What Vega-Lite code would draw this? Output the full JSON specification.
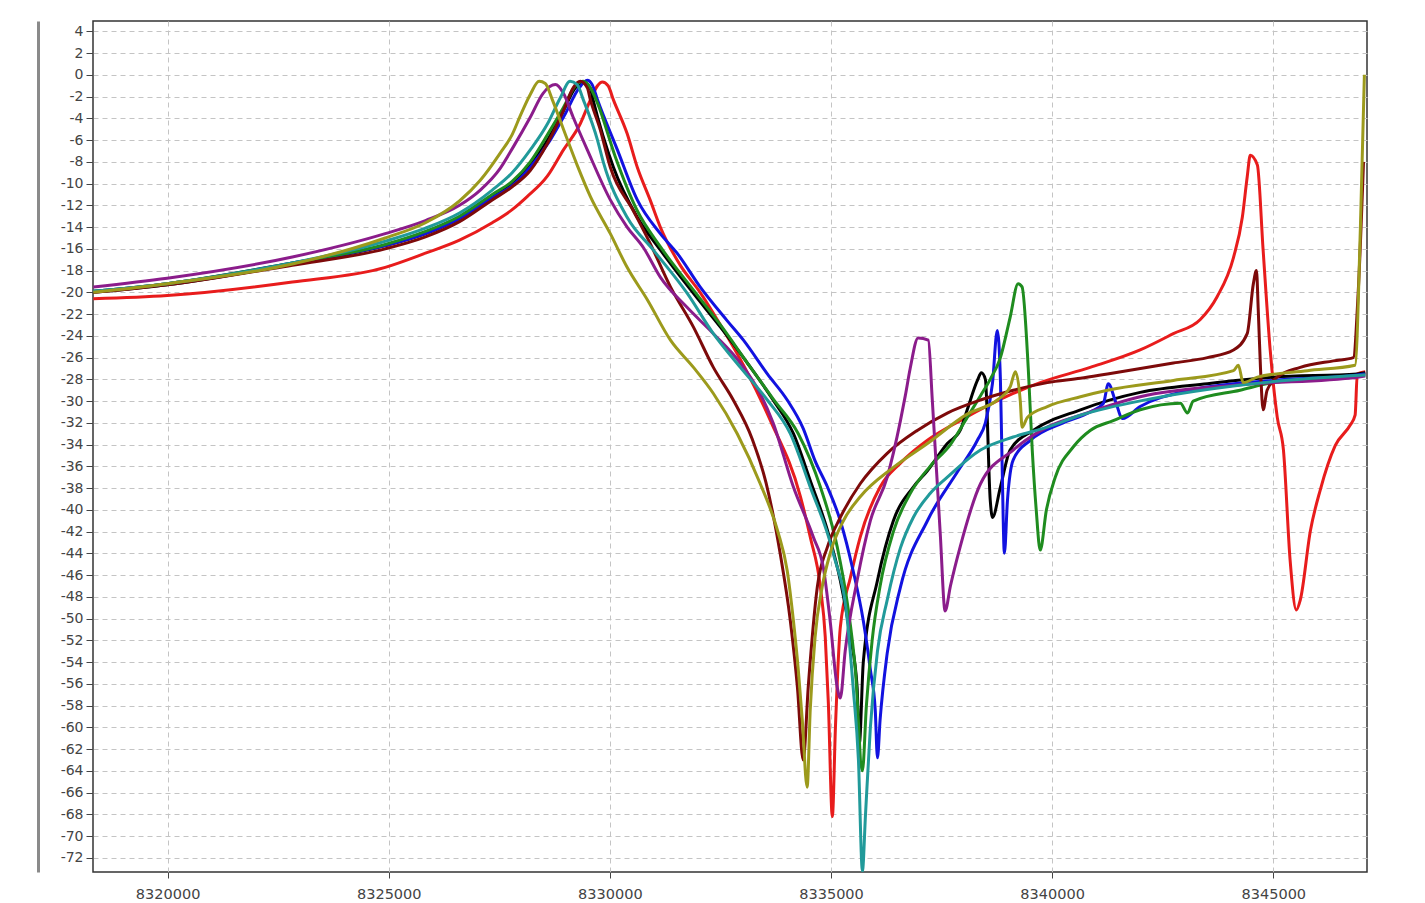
{
"$schema": "https://vega.github.io/schema/vega-lite/v6.json",
"width": 1274, "height": 851,
"autosize": {"type": "none"},
"padding": {"left": 93, "top": 21, "right": 58, "bottom": 31},
"background": "white",
"config": {
 "view": {"stroke": "#333", "strokeWidth": 1.5},
 "axis": {"labelFont": "DejaVu Sans", "labelFontSize": 14, "labelColor": "#444", "tickColor": "#444", "domain": false, "gridColor": "#c4c4c4", "gridDash": [5, 4], "gridWidth": 1, "title": null}
},
"data": {"values": [
{"s":"red","f":8318320,"v":-20.6},{"s":"red","f":8319990,"v":-20.3},{"s":"red","f":8322820,"v":-19.05},{"s":"red","f":8324920,"v":-17.7},{"s":"red","f":8325830,"v":-16.4},{"s":"red","f":8326600,"v":-15.2},{"s":"red","f":8327340,"v":-13.6},{"s":"red","f":8327790,"v":-12.4},{"s":"red","f":8328130,"v":-11.2},{"s":"red","f":8328590,"v":-9.3},{"s":"red","f":8328950,"v":-6.9},{"s":"red","f":8329330,"v":-4.5},{"s":"red","f":8329560,"v":-2.3},{"s":"red","f":8329720,"v":-1.0},{"s":"red","f":8329830,"v":-0.66},{"s":"red","f":8329960,"v":-1.0},{"s":"red","f":8330080,"v":-2.3},{"s":"red","f":8330390,"v":-5.4},{"s":"red","f":8330620,"v":-8.5},{"s":"red","f":8330910,"v":-11.5},{"s":"red","f":8331140,"v":-14.0},{"s":"red","f":8331590,"v":-17.5},{"s":"red","f":8332040,"v":-20.0},{"s":"red","f":8332500,"v":-23.0},{"s":"red","f":8333060,"v":-27.0},{"s":"red","f":8333630,"v":-31.8},{"s":"red","f":8334310,"v":-38.8},{"s":"red","f":8334530,"v":-42.5},{"s":"red","f":8334760,"v":-47.1},{"s":"red","f":8334870,"v":-51.7},{"s":"red","f":8334940,"v":-57.8},{"s":"red","f":8335030,"v":-68.2},{"s":"red","f":8335100,"v":-60.0},{"s":"red","f":8335210,"v":-50.8},{"s":"red","f":8335440,"v":-46.2},{"s":"red","f":8335660,"v":-42.5},{"s":"red","f":8336110,"v":-37.9},{"s":"red","f":8336570,"v":-35.7},{"s":"red","f":8337180,"v":-33.6},{"s":"red","f":8337920,"v":-31.8},{"s":"red","f":8339120,"v":-29.3},{"s":"red","f":8339730,"v":-28.3},{"s":"red","f":8340860,"v":-26.9},{"s":"red","f":8341990,"v":-25.3},{"s":"red","f":8342740,"v":-23.8},{"s":"red","f":8343350,"v":-22.5},{"s":"red","f":8343730,"v":-20.4},{"s":"red","f":8344100,"v":-16.8},{"s":"red","f":8344300,"v":-13.1},{"s":"red","f":8344410,"v":-9.4},{"s":"red","f":8344480,"v":-7.4},{"s":"red","f":8344640,"v":-8.3},{"s":"red","f":8344770,"v":-16.1},{"s":"red","f":8344930,"v":-25.3},{"s":"red","f":8345090,"v":-31.5},{"s":"red","f":8345230,"v":-34.5},{"s":"red","f":8345380,"v":-44.6},{"s":"red","f":8345520,"v":-49.2},{"s":"red","f":8345610,"v":-48.3},{"s":"red","f":8345840,"v":-41.9},{"s":"red","f":8346060,"v":-38.2},{"s":"red","f":8346400,"v":-34.1},{"s":"red","f":8346740,"v":-32.2},{"s":"red","f":8346850,"v":-31.3},{"s":"red","f":8346900,"v":-27.5},{"s":"red","f":8347080,"v":-27.3},
{"s":"black","f":8318320,"v":-20.0},{"s":"black","f":8319990,"v":-19.3},{"s":"black","f":8322820,"v":-17.4},{"s":"black","f":8324920,"v":-15.7},{"s":"black","f":8325830,"v":-14.6},{"s":"black","f":8326600,"v":-13.2},{"s":"black","f":8327340,"v":-11.2},{"s":"black","f":8327790,"v":-10.0},{"s":"black","f":8328200,"v":-8.3},{"s":"black","f":8328590,"v":-6.0},{"s":"black","f":8328950,"v":-3.3},{"s":"black","f":8329220,"v":-1.2},{"s":"black","f":8329420,"v":-0.7},{"s":"black","f":8329560,"v":-1.3},{"s":"black","f":8329620,"v":-2.3},{"s":"black","f":8330080,"v":-8.5},{"s":"black","f":8330620,"v":-13.1},{"s":"black","f":8331140,"v":-16.1},{"s":"black","f":8331890,"v":-20.1},{"s":"black","f":8332500,"v":-23.2},{"s":"black","f":8333110,"v":-26.5},{"s":"black","f":8333690,"v":-29.9},{"s":"black","f":8334150,"v":-33.0},{"s":"black","f":8334530,"v":-37.3},{"s":"black","f":8334920,"v":-41.9},{"s":"black","f":8335210,"v":-46.5},{"s":"black","f":8335440,"v":-51.7},{"s":"black","f":8335590,"v":-56.3},{"s":"black","f":8335640,"v":-61.5},{"s":"black","f":8335730,"v":-54.0},{"s":"black","f":8336050,"v":-46.5},{"s":"black","f":8336410,"v":-41.0},{"s":"black","f":8336860,"v":-37.9},{"s":"black","f":8337180,"v":-36.4},{"s":"black","f":8337630,"v":-33.9},{"s":"black","f":8337920,"v":-32.7},{"s":"black","f":8338080,"v":-30.8},{"s":"black","f":8338310,"v":-28.1},{"s":"black","f":8338400,"v":-27.4},{"s":"black","f":8338490,"v":-28.0},{"s":"black","f":8338600,"v":-39.1},{"s":"black","f":8338650,"v":-40.7},{"s":"black","f":8338830,"v":-37.9},{"s":"black","f":8339050,"v":-34.5},{"s":"black","f":8339570,"v":-32.7},{"s":"black","f":8340640,"v":-30.8},{"s":"black","f":8341990,"v":-29.2},{"s":"black","f":8343510,"v":-28.4},{"s":"black","f":8345000,"v":-27.8},{"s":"black","f":8346900,"v":-27.5},{"s":"black","f":8347080,"v":-27.4},
{"s":"blue","f":8318320,"v":-19.9},{"s":"blue","f":8319990,"v":-19.2},{"s":"blue","f":8322820,"v":-17.3},{"s":"blue","f":8324920,"v":-15.7},{"s":"blue","f":8325830,"v":-14.6},{"s":"blue","f":8326600,"v":-13.2},{"s":"blue","f":8327340,"v":-11.3},{"s":"blue","f":8327790,"v":-10.2},{"s":"blue","f":8328200,"v":-8.5},{"s":"blue","f":8328650,"v":-6.0},{"s":"blue","f":8328990,"v":-3.6},{"s":"blue","f":8329290,"v":-1.3},{"s":"blue","f":8329490,"v":-0.5},{"s":"blue","f":8329600,"v":-0.9},{"s":"blue","f":8329720,"v":-2.3},{"s":"blue","f":8330170,"v":-6.9},{"s":"blue","f":8330620,"v":-11.5},{"s":"blue","f":8331140,"v":-14.6},{"s":"blue","f":8331520,"v":-16.4},{"s":"blue","f":8332040,"v":-19.5},{"s":"blue","f":8332650,"v":-22.6},{"s":"blue","f":8333020,"v":-24.4},{"s":"blue","f":8333560,"v":-27.5},{"s":"blue","f":8334010,"v":-29.9},{"s":"blue","f":8334370,"v":-32.5},{"s":"blue","f":8334640,"v":-35.5},{"s":"blue","f":8334920,"v":-37.9},{"s":"blue","f":8335210,"v":-41.0},{"s":"blue","f":8335500,"v":-45.6},{"s":"blue","f":8335730,"v":-50.2},{"s":"blue","f":8335890,"v":-54.7},{"s":"blue","f":8336000,"v":-58.4},{"s":"blue","f":8336050,"v":-62.8},{"s":"blue","f":8336110,"v":-59.3},{"s":"blue","f":8336270,"v":-53.2},{"s":"blue","f":8336570,"v":-47.1},{"s":"blue","f":8337180,"v":-41.0},{"s":"blue","f":8337860,"v":-36.5},{"s":"blue","f":8338310,"v":-33.6},{"s":"blue","f":8338490,"v":-32.0},{"s":"blue","f":8338650,"v":-28.4},{"s":"blue","f":8338760,"v":-23.5},{"s":"blue","f":8338830,"v":-28.0},{"s":"blue","f":8338870,"v":-36.1},{"s":"blue","f":8338920,"v":-44.0},{"s":"blue","f":8338990,"v":-39.1},{"s":"blue","f":8339120,"v":-35.4},{"s":"blue","f":8339510,"v":-33.6},{"s":"blue","f":8340250,"v":-32.0},{"s":"blue","f":8340860,"v":-31.0},{"s":"blue","f":8341160,"v":-30.2},{"s":"blue","f":8341270,"v":-28.4},{"s":"blue","f":8341430,"v":-30.0},{"s":"blue","f":8341590,"v":-31.6},{"s":"blue","f":8341990,"v":-30.5},{"s":"blue","f":8343120,"v":-29.0},{"s":"blue","f":8345000,"v":-28.1},{"s":"blue","f":8346900,"v":-27.6},{"s":"blue","f":8347080,"v":-27.5},
{"s":"green","f":8318320,"v":-19.9},{"s":"green","f":8319990,"v":-19.2},{"s":"green","f":8322820,"v":-17.3},{"s":"green","f":8324920,"v":-15.6},{"s":"green","f":8325830,"v":-14.4},{"s":"green","f":8326600,"v":-13.0},{"s":"green","f":8327340,"v":-11.0},{"s":"green","f":8327790,"v":-9.8},{"s":"green","f":8328200,"v":-8.0},{"s":"green","f":8328590,"v":-5.5},{"s":"green","f":8328950,"v":-3.0},{"s":"green","f":8329220,"v":-1.0},{"s":"green","f":8329400,"v":-0.6},{"s":"green","f":8329560,"v":-1.2},{"s":"green","f":8329720,"v":-2.6},{"s":"green","f":8330120,"v":-7.5},{"s":"green","f":8330620,"v":-12.5},{"s":"green","f":8331140,"v":-15.8},{"s":"green","f":8331930,"v":-20.0},{"s":"green","f":8332500,"v":-23.0},{"s":"green","f":8333110,"v":-26.5},{"s":"green","f":8333690,"v":-29.8},{"s":"green","f":8334260,"v":-33.0},{"s":"green","f":8334760,"v":-37.9},{"s":"green","f":8335140,"v":-43.4},{"s":"green","f":8335370,"v":-48.6},{"s":"green","f":8335550,"v":-54.7},{"s":"green","f":8335710,"v":-64.0},{"s":"green","f":8335800,"v":-58.0},{"s":"green","f":8335930,"v":-52.0},{"s":"green","f":8336110,"v":-47.0},{"s":"green","f":8336410,"v":-42.0},{"s":"green","f":8336790,"v":-38.5},{"s":"green","f":8337240,"v":-36.0},{"s":"green","f":8337700,"v":-34.0},{"s":"green","f":8338080,"v":-31.5},{"s":"green","f":8338380,"v":-29.5},{"s":"green","f":8338600,"v":-28.0},{"s":"green","f":8338830,"v":-26.0},{"s":"green","f":8339050,"v":-22.3},{"s":"green","f":8339230,"v":-19.2},{"s":"green","f":8339320,"v":-19.5},{"s":"green","f":8339460,"v":-27.0},{"s":"green","f":8339550,"v":-34.5},{"s":"green","f":8339640,"v":-40.0},{"s":"green","f":8339730,"v":-43.7},{"s":"green","f":8339870,"v":-40.0},{"s":"green","f":8340070,"v":-37.0},{"s":"green","f":8340480,"v":-34.2},{"s":"green","f":8340860,"v":-32.7},{"s":"green","f":8341380,"v":-31.8},{"s":"green","f":8341990,"v":-30.8},{"s":"green","f":8342900,"v":-30.2},{"s":"green","f":8343060,"v":-31.1},{"s":"green","f":8343190,"v":-30.0},{"s":"green","f":8344250,"v":-29.0},{"s":"green","f":8345000,"v":-28.3},{"s":"green","f":8346900,"v":-27.7},{"s":"green","f":8347080,"v":-27.6},
{"s":"maroon","f":8318320,"v":-20.0},{"s":"maroon","f":8319990,"v":-19.3},{"s":"maroon","f":8322820,"v":-17.5},{"s":"maroon","f":8324920,"v":-16.0},{"s":"maroon","f":8325830,"v":-14.9},{"s":"maroon","f":8326600,"v":-13.5},{"s":"maroon","f":8327340,"v":-11.5},{"s":"maroon","f":8327790,"v":-10.3},{"s":"maroon","f":8328200,"v":-8.8},{"s":"maroon","f":8328590,"v":-6.3},{"s":"maroon","f":8328950,"v":-3.3},{"s":"maroon","f":8329170,"v":-1.2},{"s":"maroon","f":8329330,"v":-0.6},{"s":"maroon","f":8329490,"v":-1.2},{"s":"maroon","f":8329560,"v":-2.3},{"s":"maroon","f":8329780,"v":-5.0},{"s":"maroon","f":8330010,"v":-8.5},{"s":"maroon","f":8330530,"v":-12.5},{"s":"maroon","f":8330910,"v":-15.5},{"s":"maroon","f":8331370,"v":-19.5},{"s":"maroon","f":8331890,"v":-23.2},{"s":"maroon","f":8332340,"v":-26.9},{"s":"maroon","f":8332790,"v":-29.9},{"s":"maroon","f":8333220,"v":-33.5},{"s":"maroon","f":8333530,"v":-37.5},{"s":"maroon","f":8333850,"v":-44.0},{"s":"maroon","f":8334080,"v":-50.2},{"s":"maroon","f":8334240,"v":-56.3},{"s":"maroon","f":8334370,"v":-63.0},{"s":"maroon","f":8334490,"v":-56.0},{"s":"maroon","f":8334690,"v":-47.1},{"s":"maroon","f":8334920,"v":-43.4},{"s":"maroon","f":8335210,"v":-40.7},{"s":"maroon","f":8335660,"v":-37.6},{"s":"maroon","f":8336270,"v":-34.8},{"s":"maroon","f":8336950,"v":-32.7},{"s":"maroon","f":8337630,"v":-31.1},{"s":"maroon","f":8338380,"v":-29.9},{"s":"maroon","f":8339120,"v":-29.0},{"s":"maroon","f":8339890,"v":-28.3},{"s":"maroon","f":8340640,"v":-27.9},{"s":"maroon","f":8341250,"v":-27.5},{"s":"maroon","f":8342740,"v":-26.5},{"s":"maroon","f":8343510,"v":-26.0},{"s":"maroon","f":8344100,"v":-25.3},{"s":"maroon","f":8344410,"v":-23.8},{"s":"maroon","f":8344550,"v":-19.2},{"s":"maroon","f":8344620,"v":-18.0},{"s":"maroon","f":8344660,"v":-21.6},{"s":"maroon","f":8344710,"v":-26.9},{"s":"maroon","f":8344770,"v":-30.8},{"s":"maroon","f":8344860,"v":-29.0},{"s":"maroon","f":8345090,"v":-27.8},{"s":"maroon","f":8345610,"v":-26.9},{"s":"maroon","f":8346360,"v":-26.3},{"s":"maroon","f":8346810,"v":-26.0},{"s":"maroon","f":8346920,"v":-20.0},{"s":"maroon","f":8347040,"v":-8.0},
{"s":"purple","f":8318320,"v":-19.5},{"s":"purple","f":8319990,"v":-18.7},{"s":"purple","f":8322820,"v":-16.75},{"s":"purple","f":8324920,"v":-14.6},{"s":"purple","f":8325830,"v":-13.4},{"s":"purple","f":8326600,"v":-12.0},{"s":"purple","f":8327070,"v":-10.6},{"s":"purple","f":8327520,"v":-8.6},{"s":"purple","f":8327820,"v":-6.6},{"s":"purple","f":8328200,"v":-3.9},{"s":"purple","f":8328490,"v":-1.7},{"s":"purple","f":8328770,"v":-0.9},{"s":"purple","f":8328950,"v":-1.7},{"s":"purple","f":8329170,"v":-3.9},{"s":"purple","f":8329490,"v":-6.9},{"s":"purple","f":8330010,"v":-11.5},{"s":"purple","f":8330390,"v":-14.0},{"s":"purple","f":8330760,"v":-15.9},{"s":"purple","f":8331140,"v":-18.6},{"s":"purple","f":8331750,"v":-21.4},{"s":"purple","f":8332340,"v":-23.8},{"s":"purple","f":8332950,"v":-26.5},{"s":"purple","f":8333400,"v":-29.3},{"s":"purple","f":8333690,"v":-32.0},{"s":"purple","f":8334150,"v":-37.9},{"s":"purple","f":8334600,"v":-42.5},{"s":"purple","f":8334830,"v":-45.4},{"s":"purple","f":8334980,"v":-50.2},{"s":"purple","f":8335140,"v":-56.3},{"s":"purple","f":8335210,"v":-57.3},{"s":"purple","f":8335320,"v":-53.0},{"s":"purple","f":8335590,"v":-46.5},{"s":"purple","f":8335890,"v":-41.0},{"s":"purple","f":8336270,"v":-37.0},{"s":"purple","f":8336570,"v":-31.8},{"s":"purple","f":8336680,"v":-29.5},{"s":"purple","f":8336790,"v":-27.0},{"s":"purple","f":8336970,"v":-24.2},{"s":"purple","f":8337200,"v":-24.4},{"s":"purple","f":8337290,"v":-29.9},{"s":"purple","f":8337470,"v":-42.2},{"s":"purple","f":8337580,"v":-49.3},{"s":"purple","f":8337700,"v":-47.0},{"s":"purple","f":8337920,"v":-43.4},{"s":"purple","f":8338380,"v":-37.6},{"s":"purple","f":8339120,"v":-34.5},{"s":"purple","f":8339890,"v":-32.4},{"s":"purple","f":8340640,"v":-31.3},{"s":"purple","f":8341990,"v":-29.6},{"s":"purple","f":8344250,"v":-28.5},{"s":"purple","f":8346900,"v":-27.8},{"s":"purple","f":8347080,"v":-27.7},
{"s":"teal","f":8318320,"v":-19.9},{"s":"teal","f":8319990,"v":-19.2},{"s":"teal","f":8322820,"v":-17.3},{"s":"teal","f":8324920,"v":-15.3},{"s":"teal","f":8325830,"v":-14.1},{"s":"teal","f":8326600,"v":-12.7},{"s":"teal","f":8327340,"v":-10.6},{"s":"teal","f":8327790,"v":-9.0},{"s":"teal","f":8328200,"v":-6.9},{"s":"teal","f":8328590,"v":-4.5},{"s":"teal","f":8328880,"v":-2.1},{"s":"teal","f":8329100,"v":-0.6},{"s":"teal","f":8329260,"v":-0.9},{"s":"teal","f":8329400,"v":-2.3},{"s":"teal","f":8329720,"v":-6.0},{"s":"teal","f":8329850,"v":-8.0},{"s":"teal","f":8330390,"v":-13.1},{"s":"teal","f":8330980,"v":-16.1},{"s":"teal","f":8331750,"v":-20.1},{"s":"teal","f":8332340,"v":-23.8},{"s":"teal","f":8332950,"v":-26.9},{"s":"teal","f":8333560,"v":-29.9},{"s":"teal","f":8334080,"v":-33.0},{"s":"teal","f":8334530,"v":-37.9},{"s":"teal","f":8335050,"v":-44.0},{"s":"teal","f":8335370,"v":-50.2},{"s":"teal","f":8335500,"v":-56.3},{"s":"teal","f":8335620,"v":-63.0},{"s":"teal","f":8335710,"v":-73.2},{"s":"teal","f":8335780,"v":-68.0},{"s":"teal","f":8335890,"v":-60.0},{"s":"teal","f":8336050,"v":-53.0},{"s":"teal","f":8336270,"v":-48.3},{"s":"teal","f":8336570,"v":-43.5},{"s":"teal","f":8336860,"v":-40.7},{"s":"teal","f":8337240,"v":-38.5},{"s":"teal","f":8337630,"v":-37.0},{"s":"teal","f":8338380,"v":-34.5},{"s":"teal","f":8339120,"v":-33.3},{"s":"teal","f":8339890,"v":-32.4},{"s":"teal","f":8340640,"v":-31.3},{"s":"teal","f":8342220,"v":-29.8},{"s":"teal","f":8345000,"v":-28.2},{"s":"teal","f":8347080,"v":-27.6},
{"s":"olive","f":8318320,"v":-20.0},{"s":"olive","f":8319990,"v":-19.2},{"s":"olive","f":8322820,"v":-17.4},{"s":"olive","f":8324920,"v":-15.0},{"s":"olive","f":8325830,"v":-13.6},{"s":"olive","f":8326600,"v":-11.6},{"s":"olive","f":8327070,"v":-9.7},{"s":"olive","f":8327520,"v":-7.2},{"s":"olive","f":8327790,"v":-5.5},{"s":"olive","f":8327970,"v":-3.8},{"s":"olive","f":8328200,"v":-1.8},{"s":"olive","f":8328400,"v":-0.6},{"s":"olive","f":8328540,"v":-0.8},{"s":"olive","f":8328700,"v":-2.3},{"s":"olive","f":8328950,"v":-5.0},{"s":"olive","f":8329260,"v":-8.3},{"s":"olive","f":8329560,"v":-11.2},{"s":"olive","f":8330010,"v":-14.6},{"s":"olive","f":8330390,"v":-17.7},{"s":"olive","f":8330850,"v":-20.7},{"s":"olive","f":8331370,"v":-24.4},{"s":"olive","f":8331890,"v":-26.9},{"s":"olive","f":8332340,"v":-29.3},{"s":"olive","f":8332880,"v":-33.0},{"s":"olive","f":8333400,"v":-37.6},{"s":"olive","f":8333790,"v":-41.9},{"s":"olive","f":8334010,"v":-45.6},{"s":"olive","f":8334150,"v":-50.2},{"s":"olive","f":8334260,"v":-54.7},{"s":"olive","f":8334350,"v":-59.3},{"s":"olive","f":8334460,"v":-65.5},{"s":"olive","f":8334530,"v":-58.4},{"s":"olive","f":8334640,"v":-51.7},{"s":"olive","f":8334800,"v":-47.1},{"s":"olive","f":8334980,"v":-44.0},{"s":"olive","f":8335280,"v":-41.0},{"s":"olive","f":8335660,"v":-38.8},{"s":"olive","f":8336410,"v":-36.1},{"s":"olive","f":8337180,"v":-33.9},{"s":"olive","f":8338080,"v":-31.2},{"s":"olive","f":8338760,"v":-29.9},{"s":"olive","f":8339050,"v":-28.7},{"s":"olive","f":8339170,"v":-27.3},{"s":"olive","f":8339280,"v":-30.0},{"s":"olive","f":8339320,"v":-32.4},{"s":"olive","f":8339440,"v":-31.5},{"s":"olive","f":8339890,"v":-30.5},{"s":"olive","f":8340640,"v":-29.6},{"s":"olive","f":8341250,"v":-29.0},{"s":"olive","f":8342740,"v":-28.1},{"s":"olive","f":8344100,"v":-27.2},{"s":"olive","f":8344210,"v":-26.7},{"s":"olive","f":8344320,"v":-28.3},{"s":"olive","f":8344640,"v":-27.8},{"s":"olive","f":8345770,"v":-27.2},{"s":"olive","f":8346850,"v":-26.7},{"s":"olive","f":8346970,"v":-14.0},{"s":"olive","f":8347060,"v":0.0}
]},
"layer": [
 {"mark": {"type": "line", "strokeWidth": 3, "clip": true, "strokeJoin": "round", "interpolate": "monotone"},
  "encoding": {
   "x": {"field": "f", "type": "quantitative", "scale": {"domain": [8318313, 8347119], "nice": false, "zero": false},
         "axis": {"values": [8320000, 8325000, 8330000, 8335000, 8340000, 8345000], "labelExpr": "'' + datum.value", "tickSize": 6, "labelPadding": 9, "labelFontSize": 14.5}},
   "y": {"field": "v", "type": "quantitative", "scale": {"domain": [-73.3, 4.95], "nice": false, "zero": false},
         "axis": {"values": [4,2,0,-2,-4,-6,-8,-10,-12,-14,-16,-18,-20,-22,-24,-26,-28,-30,-32,-34,-36,-38,-40,-42,-44,-46,-48,-50,-52,-54,-56,-58,-60,-62,-64,-66,-68,-70,-72], "labelExpr": "'' + datum.value", "tickSize": 7, "labelPadding": 3}},
   "color": {"field": "s", "type": "nominal", "legend": null,
             "scale": {"domain": ["red","black","blue","green","maroon","purple","teal","olive"],
                       "range": ["#e81c1c","#000000","#1212e0","#1f8c1f","#7d0a0a","#8b1c8b","#219a9a","#9c9a1c"]}}
  }},
 {"mark": {"type": "line", "opacity": 0},
  "encoding": {
   "x": {"field": "f", "type": "quantitative"},
   "y": {"field": "v", "type": "quantitative",
         "axis": {"orient": "left", "offset": 55, "labels": false, "ticks": false, "grid": false, "domain": true, "domainColor": "#8a8a8a", "domainWidth": 3}}
  }}
],
"resolve": {"axis": {"y": "independent"}}
}
